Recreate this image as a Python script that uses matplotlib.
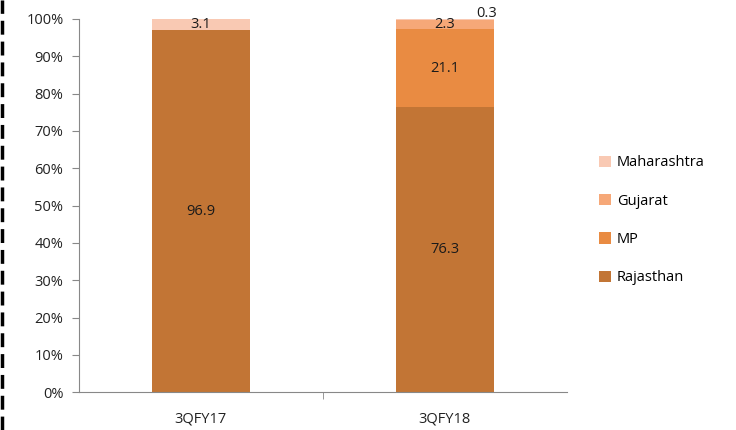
import numpy as np
import matplotlib
matplotlib.use("Agg")
from matplotlib import pyplot as plt
from matplotlib.lines import Line2D

plt.rcParams['font.family'] = ['Open Sans', 'DejaVu Sans']

quarters = ['3QFY17', '3QFY18']
states = ['Rajasthan', 'MP', 'Gujarat', 'Maharashtra']
rajasthan = [96.9, 76.3]
mp = [0.0, 21.1]
gujarat = [0.0, 2.3]
maharashtra = [3.1, 0.3]
colors = ['#C27535', '#E98B42', '#F6A878', '#F9C9B3']

fig = plt.figure(figsize=(7.36, 4.30), dpi=100)
ax = fig.add_axes([0.107, 0.088, 0.663, 0.868])

x = np.arange(len(quarters))
series = [rajasthan, mp, gujarat, maharashtra]
bottom = np.zeros(len(quarters))
for name, vals, c in zip(states, series, colors):
    ax.bar(x, vals, width=0.4, bottom=bottom, color=c, label=name)
    bottom = bottom + np.array(vals)

# data labels
base = np.zeros(len(quarters))
for vals in series:
    for i, v in enumerate(vals):
        if v <= 0:
            continue
        if v < 1:
            ax.text(x[i] + 0.17, 101.4, f"{v:.1f}", ha='center', va='center',
                    fontsize=10.5, color='#1a1a1a', clip_on=False)
        else:
            ax.text(x[i], base[i] + v / 2, f"{v:.1f}", ha='center', va='center',
                    fontsize=10.5, color='#1a1a1a')
        base[i] += v

ax.set_xlim(-0.5, 1.5)
ax.set_ylim(0, 100)
ax.set_yticks(np.arange(0, 101, 10))
ax.set_yticklabels([f"{t}%" for t in range(0, 101, 10)], fontsize=10.5, color='#222222')
ax.set_xticks(x)
ax.set_xticklabels(quarters, fontsize=10.5, color='#222222')
ax.tick_params(axis='x', length=0, pad=14)
ax.tick_params(axis='y', length=5, color='#888888', pad=6)
ax.set_xticks([0.5], minor=True)
ax.tick_params(axis='x', which='minor', length=5, color='#888888')

for s in ['top', 'right']:
    ax.spines[s].set_visible(False)
for s in ['left', 'bottom']:
    ax.spines[s].set_color('#888888')

handles, labels = ax.get_legend_handles_labels()
ax.legend(handles[::-1], labels[::-1], loc='center left', bbox_to_anchor=(1.04, 0.46),
          frameon=False, fontsize=10.5, handlelength=0.8, handleheight=0.8,
          handletextpad=0.4, labelspacing=1.6)

# dashed border at left edge
fig.add_artist(Line2D([0.003, 0.003], [0, 1], transform=fig.transFigure,
                      color='black', linestyle=(0, (4, 2)), linewidth=2.5))

fig.savefig('out.png', dpi=100)
